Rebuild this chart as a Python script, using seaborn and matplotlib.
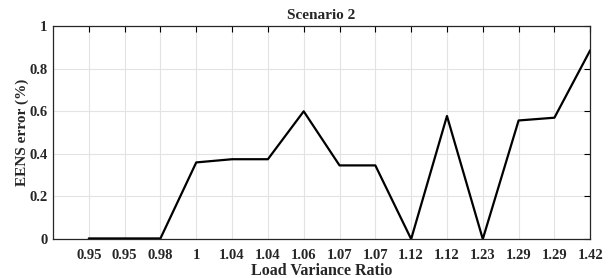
import matplotlib
matplotlib.use("Agg")
import matplotlib.pyplot as plt
import seaborn as sns
import pandas as pd
import numpy as np

ratios = ["0.95", "0.95", "0.98", "1", "1.04", "1.04", "1.06", "1.07", "1.07",
          "1.12", "1.12", "1.23", "1.29", "1.29", "1.42"]
eens_error = [0.003, 0.003, 0.003, 0.36, 0.375, 0.375, 0.60, 0.346, 0.346,
              0.0, 0.578, 0.0, 0.557, 0.570, 0.887]

sns.set_theme(style="white")
plt.rcParams['font.family'] = ['Liberation Serif', 'DejaVu Serif']
plt.rcParams['font.weight'] = 'bold'

df = pd.DataFrame({"pos": np.arange(1, len(ratios) + 1), "err": eens_error})

fig = plt.figure(figsize=(6.14, 2.78), dpi=100)
ax = fig.add_axes([0.0863, 0.140, 0.875, 0.766])
sns.lineplot(data=df, x="pos", y="err", ax=ax, color="black", linewidth=1.6)

ax.set_xlim(0, len(ratios))
ax.set_ylim(0, 1)
ax.set_xticks(df["pos"])
ax.set_xticklabels(ratios)
ax.set_yticks([0, 0.2, 0.4, 0.6, 0.8, 1])
ax.set_yticklabels(["0", "0.2", "0.4", "0.6", "0.8", "1"])
ax.grid(True, color="#e3e3e3", linewidth=0.8)
ax.tick_params(direction="in", length=4, width=0.8, color="black",
               top=True, right=True, labelsize=10.5)
ax.tick_params(axis="x", pad=7)
ax.tick_params(axis="y", pad=4)
for lbl in ax.get_xticklabels() + ax.get_yticklabels():
    lbl.set_fontweight("bold")
for s in ax.spines.values():
    s.set_color("#262626")
    s.set_linewidth(0.9)
ax.set_xlabel("Load Variance Ratio", fontsize=11.5, fontweight="bold")
ax.xaxis.label.set_va("baseline")
ax.xaxis.set_label_coords(0.5, -0.167)
ax.set_ylabel("EENS error (%)", fontsize=11, fontweight="bold")
ax.yaxis.label.set_va("center")
ax.yaxis.set_label_coords(-0.058, 0.5)
ax.set_title("Scenario 2", fontsize=11, fontweight="bold", pad=5)

fig.savefig("out.png", dpi=100)
